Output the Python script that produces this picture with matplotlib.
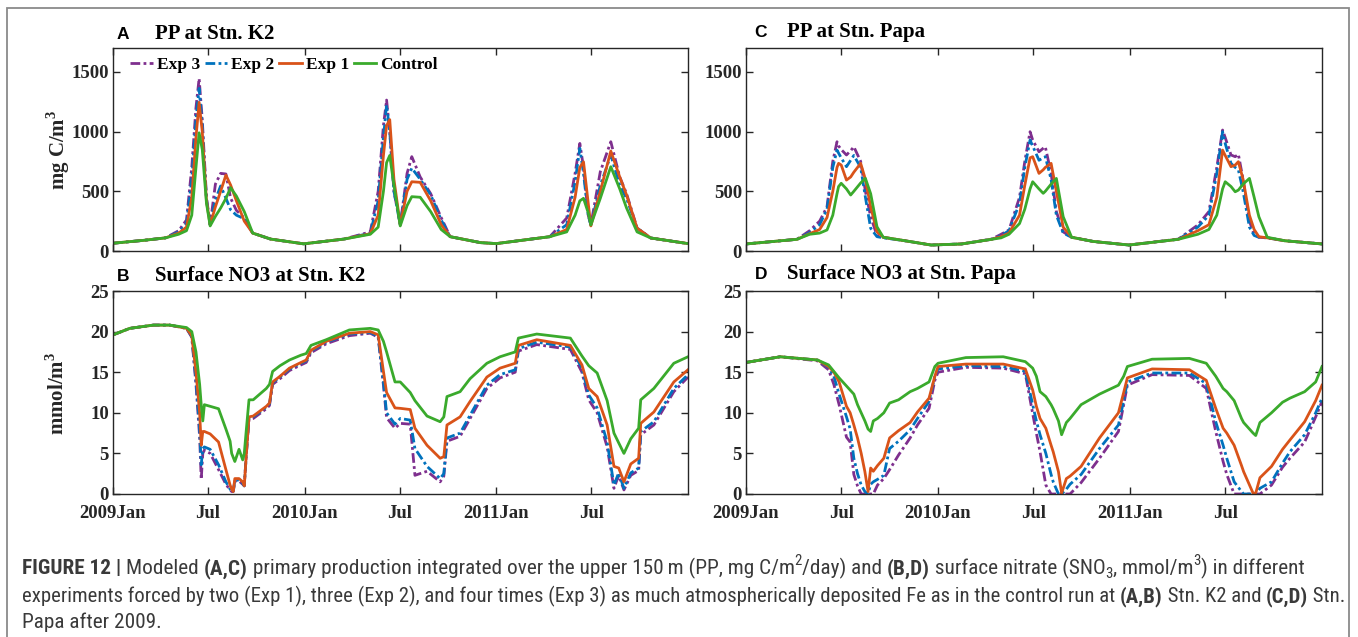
import os
import matplotlib
matplotlib.use("Agg")
import matplotlib.pyplot as plt
import matplotlib.patches as patches
from matplotlib import font_manager
from matplotlib.font_manager import FontProperties

W, H = 1358, 637

# time axis: days since 2009-01-01
tick_days = [0, 181, 365, 546, 730, 911]
tick_labels = ["2009Jan", "Jul", "2010Jan", "Jul", "2011Jan", "Jul"]
series_names = ["Exp 3", "Exp 2", "Exp 1", "Control"]

# (A) PP at Stn. K2
a_days = [0, 60, 100, 125, 140, 150, 158, 164, 170, 178,
          185, 195, 205, 215, 224, 235, 250, 266, 300, 363,
          440, 490, 505, 515, 521, 527, 535, 547, 560, 569,
          585, 605, 625, 642, 700, 730, 832, 864, 880, 889,
          896, 905, 910, 928, 948, 965, 978, 998, 1024, 1095]
a_exp3 = [65, 90, 110, 170, 260, 700, 1200, 1445, 1100, 450,
          220, 560, 650, 645, 443, 340, 276, 150, 100, 60,
          100, 160, 500, 1050, 1264, 1000, 500, 220, 650, 790,
          620, 480, 280, 120, 70, 62, 120, 276, 650, 901,
          700, 300, 218, 664, 915, 620, 480, 192, 109, 62]
a_exp2 = [65, 90, 110, 160, 230, 600, 1100, 1362, 1050, 430,
          220, 430, 545, 443, 345, 300, 270, 150, 100, 60,
          100, 150, 420, 950, 1222, 1000, 500, 220, 600, 694,
          600, 470, 260, 120, 70, 62, 120, 220, 580, 860,
          650, 300, 218, 550, 803, 550, 440, 192, 109, 62]
a_exp1 = [65, 90, 110, 150, 200, 450, 950, 1245, 1000, 420,
          220, 370, 500, 636, 552, 420, 250, 150, 100, 60,
          100, 145, 300, 800, 1050, 1100, 600, 220, 500, 580,
          575, 420, 220, 120, 70, 62, 120, 180, 450, 700,
          747, 400, 210, 500, 837, 620, 469, 192, 109, 62]
a_ctrl = [65, 90, 110, 140, 170, 300, 700, 990, 850, 400,
          210, 290, 360, 440, 530, 460, 330, 150, 100, 60,
          100, 140, 200, 500, 740, 800, 550, 210, 380, 455,
          450, 330, 180, 120, 70, 62, 120, 160, 300, 420,
          441, 320, 218, 441, 706, 520, 360, 160, 109, 62]

# (B) Surface NO3 at Stn. K2
b_days = [0, 32, 77, 108, 140, 150, 158, 165, 168, 171,
          174, 185, 201, 215, 223, 226, 229, 232, 240, 247,
          250, 254, 259, 267, 292, 298, 304, 318, 336, 358,
          368, 377, 406, 450, 490, 505, 515, 521, 537, 547,
          566, 575, 598, 623, 630, 636, 661, 680, 712, 737,
          766, 772, 807, 871, 893, 906, 922, 941, 954, 963,
          973, 986, 1001, 1005, 1030, 1068, 1095]
b_exp3 = [19.6, 20.4, 20.8, 20.8, 20.4, 19.3, 13.5, 7.0, 1.8, 5.0,
          5.4, 5.0, 3.0, 1.2, 0.5, 0.3, 0.3, 1.6, 1.6, 1.2,
          1.0, 5.0, 9.2, 9.3, 10.5, 10.9, 13.5, 14.2, 15.2, 15.9,
          16.2, 17.4, 18.5, 19.5, 19.8, 19.3, 13.4, 9.4, 8.1, 8.7,
          8.6, 2.3, 2.8, 1.5, 2.2, 6.5, 7.1, 9.3, 13.0, 14.3,
          15.0, 17.6, 18.4, 17.8, 15.0, 11.6, 10.0, 5.8, 0.7, 2.3,
          0.5, 2.3, 2.9, 7.3, 8.5, 12.6, 14.4]
b_exp2 = [19.6, 20.4, 20.8, 20.8, 20.4, 19.4, 14.0, 8.0, 3.6, 5.6,
          5.8, 5.5, 3.6, 1.5, 0.6, 0.3, 0.3, 1.7, 1.7, 1.3,
          1.0, 5.0, 9.4, 9.5, 10.7, 11.1, 13.7, 14.4, 15.4, 16.1,
          16.4, 17.6, 18.7, 19.7, 19.9, 19.4, 13.8, 10.0, 8.6, 9.3,
          9.1, 5.6, 3.4, 1.9, 2.5, 6.9, 7.5, 9.7, 13.4, 14.7,
          15.3, 17.9, 18.7, 18.1, 15.5, 12.2, 10.6, 6.4, 1.1, 2.6,
          0.7, 2.6, 3.2, 7.7, 8.9, 13.0, 14.7]
b_exp1 = [19.6, 20.4, 20.8, 20.8, 20.4, 19.5, 15.0, 10.0, 6.0, 7.7,
          7.7, 7.4, 6.4, 3.0, 1.1, 0.6, 0.3, 1.9, 1.9, 1.5,
          1.0, 5.0, 9.5, 9.6, 10.8, 11.2, 13.8, 14.5, 15.5, 16.2,
          16.5, 17.7, 18.8, 19.8, 20.0, 19.6, 15.1, 12.5, 10.6, 10.55,
          10.4, 8.1, 6.0, 4.4, 4.6, 8.5, 9.5, 11.4, 14.4, 15.5,
          16.1, 18.3, 19.0, 18.3, 15.9, 13.0, 12.0, 8.5, 3.4, 3.2,
          1.5, 3.7, 4.4, 8.7, 10.1, 13.8, 15.3]
b_ctrl = [19.6, 20.4, 20.8, 20.8, 20.5, 20.0, 17.5, 13.5, 11.0, 9.0,
          11.0, 10.8, 10.5, 8.0, 6.5, 5.0, 4.5, 4.0, 5.5, 4.2,
          5.0, 8.0, 11.6, 11.6, 13.0, 13.5, 15.1, 15.8, 16.5, 17.1,
          17.3, 18.3, 19.0, 20.2, 20.4, 20.2, 18.8, 17.5, 13.8, 13.8,
          12.5, 11.5, 9.6, 8.9, 9.5, 12.0, 12.6, 14.2, 16.1, 16.9,
          17.5, 19.2, 19.7, 19.2, 17.0, 15.8, 14.9, 11.5, 7.5, 6.3,
          5.0, 6.8, 8.1, 11.6, 13.0, 16.1, 16.9]

# (C) PP at Stn. Papa
c_days = [0, 97, 121, 140, 154, 165, 173, 176, 181, 191,
          199, 205, 218, 227, 237, 249, 261, 302, 352, 410,
          467, 485, 500, 520, 530, 540, 545, 557, 565, 569,
          580, 590, 603, 619, 660, 728, 822, 859, 880, 895,
          906, 911, 922, 930, 936, 945, 957, 966, 975, 991,
          1024, 1095]
c_exp3 = [59, 98, 170, 250, 370, 750, 915, 880, 850, 804,
          840, 873, 750, 500, 287, 130, 115, 86, 50, 59,
          100, 140, 176, 450, 750, 999, 930, 831, 860, 873,
          650, 330, 160, 115, 80, 50, 100, 218, 330, 700,
          1013, 950, 804, 790, 810, 600, 250, 140, 115, 110,
          86, 59]
c_exp2 = [59, 98, 155, 220, 350, 700, 845, 820, 780, 706,
          760, 800, 700, 450, 190, 120, 110, 86, 50, 59,
          98, 130, 170, 400, 700, 929, 880, 760, 780, 790,
          600, 300, 150, 115, 80, 50, 98, 200, 300, 650,
          999, 900, 734, 700, 680, 500, 200, 130, 115, 110,
          86, 59]
c_exp1 = [59, 98, 145, 180, 280, 500, 700, 734, 720, 594,
          620, 660, 734, 600, 370, 160, 115, 86, 50, 59,
          98, 120, 150, 300, 550, 780, 790, 650, 680, 700,
          734, 500, 200, 115, 80, 50, 98, 170, 220, 450,
          845, 800, 706, 720, 748, 600, 300, 180, 120, 110,
          86, 59]
c_ctrl = [59, 98, 140, 150, 176, 300, 480, 540, 567, 520,
          469, 500, 570, 608, 480, 203, 115, 86, 50, 59,
          98, 110, 140, 230, 350, 520, 580, 520, 483, 500,
          560, 608, 287, 115, 80, 50, 98, 140, 180, 300,
          520, 580, 540, 496, 510, 560, 608, 450, 287, 115,
          86, 59]

# (D) Surface NO3 at Stn. Papa
d_days = [0, 65, 136, 157, 167, 177, 191, 198, 205, 212,
          219, 226, 232, 237, 242, 250, 262, 273, 290, 312,
          326, 348, 359, 365, 418, 489, 531, 545, 552, 559,
          570, 580, 584, 594, 600, 609, 616, 637, 672, 708,
          718, 725, 772, 843, 875, 893, 907, 914, 928, 942,
          946, 964, 969, 977, 999, 1020, 1034, 1062, 1083, 1095]
d_exp3 = [16.2, 16.9, 16.4, 15.3, 13.5, 11.0, 7.0, 6.4, 2.4, 1.0,
          0.0, 0.0, 0.0, 0.0, 0.0, 1.1, 1.9, 3.0, 4.8, 6.9,
          8.5, 10.55, 14.0, 15.0, 15.6, 15.5, 14.8, 9.9, 7.5, 5.2,
          1.1, 0.0, 0.0, 0.0, 0.0, 0.0, 0.0, 1.4, 4.4, 7.7,
          11.0, 13.4, 14.7, 14.6, 13.0, 7.7, 4.0, 2.4, 0.0, 0.0,
          0.0, 0.0, 0.0, 0.0, 1.1, 3.3, 4.4, 6.4, 9.5, 11.4]
d_exp2 = [16.2, 16.9, 16.5, 15.6, 14.5, 12.3, 9.5, 8.0, 4.4, 2.5,
          1.1, 0.3, 0.0, 1.2, 1.5, 1.8, 2.3, 5.6, 6.5, 7.9,
          9.3, 11.4, 14.5, 15.4, 15.8, 15.7, 15.1, 11.0, 9.0, 7.3,
          5.0, 2.4, 1.5, 0.0, 0.0, 0.6, 1.2, 2.4, 5.6, 8.5,
          11.5, 13.8, 14.9, 14.9, 13.6, 8.9, 6.0, 4.4, 1.5, 0.3,
          0.0, 0.0, 0.0, 0.7, 1.5, 3.8, 5.2, 7.3, 10.0, 11.8]
d_exp1 = [16.2, 16.9, 16.5, 15.7, 15.0, 13.8, 10.8, 10.0, 8.5, 6.9,
          5.0, 2.75, 0.3, 3.2, 2.8, 3.5, 4.4, 6.9, 7.8, 8.8,
          10.1, 11.8, 14.5, 15.7, 16.0, 16.0, 15.4, 12.8, 10.8, 9.3,
          8.1, 6.0, 5.2, 2.75, 0.1, 1.9, 2.2, 3.4, 6.9, 10.0,
          12.5, 14.3, 15.4, 15.3, 14.0, 10.55, 8.1, 7.5, 6.0, 3.5,
          2.75, 0.1, 0.1, 2.0, 3.4, 5.5, 6.65, 8.9, 11.5, 13.4]
d_ctrl = [16.2, 16.9, 16.5, 15.9, 15.1, 14.3, 13.3, 12.8, 12.3, 11.0,
          10.0, 9.0, 8.0, 7.7, 9.0, 9.3, 10.0, 11.2, 11.6, 12.6,
          13.0, 13.8, 15.7, 16.1, 16.8, 16.9, 16.3, 15.5, 14.5, 12.6,
          12.0, 11.0, 10.5, 9.0, 7.3, 8.8, 9.3, 11.0, 12.3, 13.4,
          14.5, 15.7, 16.6, 16.7, 16.1, 14.5, 13.0, 12.6, 11.5, 9.3,
          8.8, 7.5, 7.2, 8.8, 10.0, 11.3, 11.8, 12.6, 13.8, 15.7]

colors = ["#7E2F8E", "#0072BD", "#D95319", "#3AAA2C"]
dashdot = (0, (3.5, 1.2, 1.0, 1.2))
styles = [dashdot, dashdot, "-", "-"]
ink = "#262626"

serif = "Liberation Serif"
sans = "Liberation Sans"


def weight_num(w):
    if isinstance(w, (int, float)):
        return w
    return {"bold": 700, "normal": 400, "regular": 400, "book": 400}.get(str(w).lower(), 400)


def find_narrow_font():
    # look for an installed condensed sans face (regular + bold) for the caption
    prefs = ["liberation sans narrow", "roboto condensed", "open sans condensed",
             "dejavu sans condensed", "dejavu sans", "noto sans", "open sans", "roboto"]
    groups = {}
    for f in font_manager.fontManager.ttflist:
        fn = os.path.basename(f.fname).lower()
        nm = f.name.lower()
        narrow = ("narrow" in fn or "condensed" in fn or "narrow" in nm or "condensed" in nm
                  or str(f.stretch) in ("condensed", "semi-condensed"))
        if not narrow or f.style != "normal" or "mono" in fn or "serif" in fn:
            continue
        if "semi" in fn or "extra" in fn or "ultra" in fn:
            continue
        wn = weight_num(f.weight)
        g = groups.setdefault(nm, {})
        if 350 <= wn <= 450:
            g.setdefault("n", f.fname)
        elif 650 <= wn <= 750:
            g.setdefault("b", f.fname)
    for p in prefs:
        for nm, g in groups.items():
            if nm.startswith(p) and "n" in g and "b" in g:
                return g["n"], g["b"]
    for nm, g in groups.items():
        if "n" in g and "b" in g:
            return g["n"], g["b"]
    return None


narrow = find_narrow_font()


def cap_props(size, bold):
    if narrow:
        return FontProperties(fname=narrow[1] if bold else narrow[0], size=size)
    return FontProperties(family=sans, weight="bold" if bold else "normal", size=size)


plt.rcParams["font.family"] = serif
plt.rcParams["mathtext.fontset"] = "custom"
plt.rcParams["mathtext.rm"] = "Liberation Serif:bold"
plt.rcParams["mathtext.bf"] = "Liberation Serif:bold"

fig = plt.figure(figsize=(W / 100, H / 100), dpi=100)
fig.patch.set_facecolor("white")

# outer frame of the figure box
fig.patches.append(patches.Rectangle((7 / W, -0.05), (1349 - 7) / W, 1 - 8 / H + 0.05,
                                     transform=fig.transFigure, fill=False,
                                     edgecolor="#8a8a8a", linewidth=1.3))


def fx(px):
    return px / W


def fy(py):
    return 1 - py / H


def make_axes(l, t, r, b):
    return fig.add_axes([l / W, 1 - b / H, (r - l) / W, (b - t) / H])


def draw_panel(ax, days, vals, ylim, yticks, show_x):
    for v, c, ls, name in zip(vals, colors, styles, series_names):
        ax.plot(days, v, color=c, linestyle=ls, linewidth=2.0, label=name)
    ax.set_xlim(0, 1095)
    ax.set_ylim(*ylim)
    ax.set_xticks(tick_days)
    ax.set_yticks(yticks)
    ax.set_xticklabels(tick_labels if show_x else [])
    ax.tick_params(direction="in", top=True, right=True, length=5, width=1,
                   color=ink, labelcolor=ink, labelsize=13.5)
    ax.tick_params(axis="y", pad=3)
    ax.tick_params(axis="x", pad=8)
    for lab in ax.get_xticklabels() + ax.get_yticklabels():
        lab.set_fontweight("bold")
    for s in ax.spines.values():
        s.set_color(ink)
        s.set_linewidth(1.0)


axA = make_axes(113, 48, 688, 251)
axB = make_axes(113, 291, 688, 494)
axC = make_axes(746, 48, 1322, 251)
axD = make_axes(746, 291, 1322, 494)

draw_panel(axA, a_days, [a_exp3, a_exp2, a_exp1, a_ctrl], (0, 1700), [0, 500, 1000, 1500], False)
draw_panel(axB, b_days, [b_exp3, b_exp2, b_exp1, b_ctrl], (0, 25), [0, 5, 10, 15, 20, 25], True)
draw_panel(axC, c_days, [c_exp3, c_exp2, c_exp1, c_ctrl], (0, 1700), [0, 500, 1000, 1500], False)
draw_panel(axD, d_days, [d_exp3, d_exp2, d_exp1, d_ctrl], (0, 25), [0, 5, 10, 15, 20, 25], True)

axA.legend(loc="center left", bbox_to_anchor=(fx(130), fy(65)), bbox_transform=fig.transFigure,
           ncol=4, frameon=False, borderpad=0, borderaxespad=0, handlelength=1.3,
           handletextpad=0.25, columnspacing=0.25,
           prop={"family": serif, "weight": "bold", "size": 12.5})

# panel titles
titles = [("A", "PP at Stn. K2", 117, 155, 39),
          ("B", "Surface NO3 at Stn. K2", 117, 155, 281),
          ("C", "PP at Stn. Papa", 754, 787, 37),
          ("D", "Surface NO3 at Stn. Papa", 755, 787, 279)]
for letter, text, lx, tx, by in titles:
    fig.text(fx(lx), fy(by), letter, family=sans, weight="bold", size=12.5,
             color="black", va="baseline", ha="left")
    fig.text(fx(tx), fy(by), text, family=serif, weight="bold", size=15,
             color="black", va="baseline", ha="left")

# y labels
fig.text(fx(58), fy(150), r"mg C/m$^\mathrm{3}$", rotation=90, ha="center", va="center",
         family=serif, weight="bold", size=15, color=ink)
fig.text(fx(58), fy(393), r"mmol/m$^\mathrm{3}$", rotation=90, ha="center", va="center",
         family=serif, weight="bold", size=15, color=ink)

# caption, drawn piece by piece
renderer = fig.canvas.get_renderer()
cap_color = "#3a3a3a"


def advance(s, size, bold):
    t1 = fig.text(0, 0, s + ".", fontproperties=cap_props(size, bold))
    t2 = fig.text(0, 0, ".", fontproperties=cap_props(size, bold))
    w = t1.get_window_extent(renderer).width - t2.get_window_extent(renderer).width
    t1.remove()
    t2.remove()
    return w


cap_lines = [
    ([("FIGURE 12 | ", "b"), ("Modeled ", "n"), ("(A,C)", "b"),
      (" primary production integrated over the upper 150\u2009m (PP, mg C/m", "n"), ("2", "sup"),
      ("/day) and ", "n"), ("(B,D)", "b"), (" surface nitrate (SNO", "n"), ("3", "sub"),
      (", mmol/m", "n"), ("3", "sup"), (") in different", "n")], 574, 1306),
    ([("experiments forced by two (Exp 1), three (Exp 2), and four times (Exp 3) as much "
       "atmospherically deposited Fe as in the control run at ", "n"), ("(A,B)", "b"),
      (" Stn. K2 and ", "n"), ("(C,D)", "b"), (" Stn.", "n")], 602, 1338),
    ([("Papa after 2009.", "n")], 628, None),
]


def line_width(pieces, size):
    w = 0
    for s, kind in pieces:
        sz = size * 0.7 if kind in ("sup", "sub") else size
        w += advance(s, sz, kind == "b")
    return w


base = 12
x0 = 22
first_size = None
for pieces, by, xend in cap_lines:
    if xend is not None:
        size = base * (xend - x0) / line_width(pieces, base)
        if first_size is None:
            first_size = size
    else:
        size = first_size
    x = x0
    for s, kind in pieces:
        sz = size * 0.7 if kind in ("sup", "sub") else size
        bold = kind == "b"
        dy = 0
        if kind == "sup":
            dy = -size * 1.389 * 0.42
        elif kind == "sub":
            dy = size * 1.389 * 0.2
        fig.text(fx(x), fy(by + dy), s, fontproperties=cap_props(sz, bold),
                 color=cap_color, va="baseline", ha="left")
        x += advance(s, sz, bold)

fig.savefig("out.png", dpi=100, facecolor="white")
